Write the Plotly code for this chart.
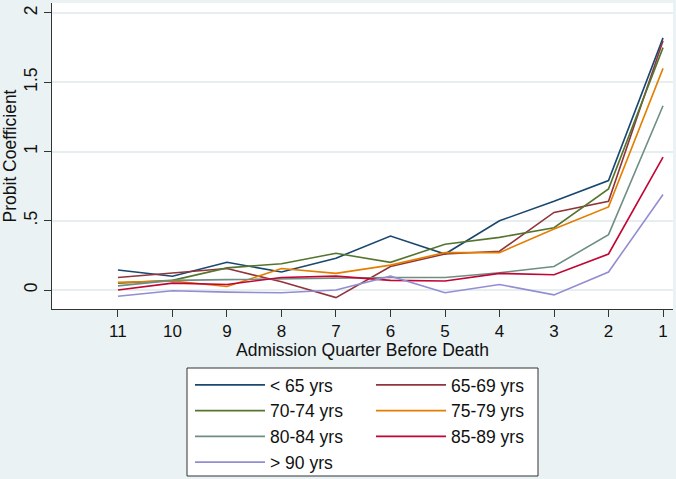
import plotly.graph_objects as go

quarters = [11, 10, 9, 8, 7, 6, 5, 4, 3, 2, 1]

age_lt65 = [0.145, 0.10, 0.20, 0.13, 0.23, 0.39, 0.26, 0.50, 0.64, 0.79, 1.82]
age_65_69 = [0.09, 0.12, 0.155, 0.06, -0.055, 0.17, 0.26, 0.28, 0.56, 0.64, 1.80]
age_70_74 = [0.05, 0.07, 0.16, 0.19, 0.265, 0.20, 0.33, 0.38, 0.45, 0.73, 1.75]
age_75_79 = [0.055, 0.065, 0.025, 0.155, 0.12, 0.18, 0.27, 0.27, 0.44, 0.60, 1.60]
age_80_84 = [0.03, 0.07, 0.075, 0.08, 0.09, 0.09, 0.09, 0.125, 0.17, 0.40, 1.33]
age_85_89 = [0.0, 0.05, 0.04, 0.09, 0.10, 0.07, 0.065, 0.12, 0.11, 0.26, 0.96]
age_gt90 = [-0.045, -0.005, -0.015, -0.02, 0.0, 0.10, -0.02, 0.04, -0.035, 0.13, 0.69]

series_names = ["< 65 yrs", "65-69 yrs", "70-74 yrs", "75-79 yrs", "80-84 yrs", "85-89 yrs", "> 90 yrs"]
series_values = [age_lt65, age_65_69, age_70_74, age_75_79, age_80_84, age_85_89, age_gt90]
series_colors = ["#1a476f", "#90353b", "#55752f", "#e37e00", "#6e8e84", "#c10534", "#938dd2"]
legend_ids = ["legend", "legend2", "legend", "legend2", "legend", "legend2", "legend"]

y_tickvals = [0, 0.5, 1, 1.5, 2]
y_ticktext = ["0", ".5", "1", "1.5", "2"]

x_title = "Admission Quarter Before Death"
y_title = "Probit Coefficient"

FONT = "Arial, Liberation Sans, sans-serif"
BG = "#eaf2f3"

fig = go.Figure()
for name, vals, col, lg in zip(series_names, series_values, series_colors, legend_ids):
    fig.add_trace(go.Scatter(x=quarters, y=vals, mode="lines", name=name,
                             line=dict(color=col, width=1.6), legend=lg))

L, R, T, B = 52, 3, 3, 170
W, H = 676, 479
pw, ph = W - L - R, H - T - B

def px_x(p):
    return (p - L) / pw

def px_y(p):
    return (H - B - p) / ph

fig.add_shape(type="rect", xref="paper", yref="paper",
              x0=px_x(187), x1=px_x(538), y0=px_y(476), y1=px_y(368),
              line=dict(color="#333333", width=1), fillcolor="white", layer="below")

fig.add_annotation(text=x_title, xref="paper", yref="paper", x=0.5, y=px_y(350),
                   xanchor="center", yanchor="middle", showarrow=False,
                   font=dict(family=FONT, size=17.5, color="#111"))

legend_common = dict(font=dict(family=FONT, size=17.5, color="#111"),
                     bgcolor="rgba(0,0,0,0)", xanchor="left", yanchor="top",
                     itemwidth=70, tracegroupgap=0)

fig.update_layout(
    width=W, height=H,
    margin=dict(l=L, r=R, t=T, b=B, autoexpand=False),
    paper_bgcolor=BG, plot_bgcolor="white",
    font=dict(family=FONT, size=17.5, color="#111"),
    legend=dict(x=px_x(190), y=px_y(367), **legend_common),
    legend2=dict(x=px_x(371), y=px_y(367), **legend_common),
    xaxis=dict(range=[12.21, 0.817], tickvals=quarters, ticks="outside", ticklen=7,
               tickcolor="#333", showgrid=False, zeroline=False, showline=True,
               linecolor="#333", linewidth=1, ticklabelstandoff=0,
               tickfont=dict(size=17)),
    yaxis=dict(range=[-0.137, 2.072], tickvals=y_tickvals, ticktext=y_ticktext,
               tickangle=-90, ticks="outside", ticklen=7, tickcolor="#333",
               showgrid=True, gridcolor="#e6eef0", gridwidth=1.5, zeroline=False,
               showline=True, linecolor="#333", linewidth=1,
               title=dict(text=y_title, standoff=4, font=dict(size=17.5))),
)

fig.write_html("out.html", config={"displayModeBar": False},
               post_script="document.body.style.margin='0';document.body.style.overflow='hidden';")
